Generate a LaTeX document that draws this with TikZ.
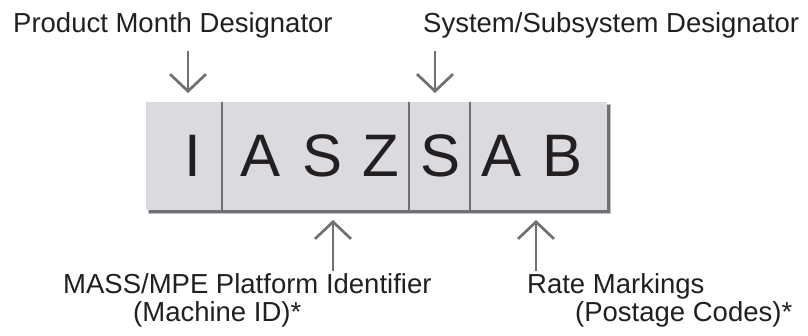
\documentclass[tikz,border=0pt]{standalone}
\usepackage{fontspec}
\setmainfont{Liberation Sans}
\usetikzlibrary{arrows.meta}
\definecolor{boxfill}{HTML}{DADADF}
\definecolor{linegray}{HTML}{6D7174}
\definecolor{txt}{HTML}{231F20}
\begin{document}
\begin{tikzpicture}[x=1pt,y=-1pt,
  lbl/.style={anchor=base west, inner sep=0pt, text=txt, font=\fontsize{27.5}{30}\selectfont},
  letter/.style={anchor=base, inner sep=0pt, text=txt, font=\fontsize{60}{62}\selectfont},
  pointer/.style={draw=linegray, line width=2.7pt, -{Straight Barb[length=17pt,width=36pt,line width=2.7pt]}},
  divider/.style={draw=linegray, line width=2pt}]
\useasboundingbox (0,0) rectangle (808,335);
% box with shadow
\fill[linegray!45] (148,104) rectangle (610.5,213.5);
\fill[linegray] (149,105) rectangle (609.5,212.5);
\fill[boxfill] (146,102) coordinate (boxnw) rectangle (607,210) coordinate (boxse);
% dividers
\coordinate (d1t) at (222,102); \coordinate (d1b) at (222,210);
\coordinate (d2t) at (409,102); \coordinate (d2b) at (409,210);
\coordinate (d3t) at (470,102); \coordinate (d3b) at (470,210);
\draw[divider] (d1t) -- (d1b);
\draw[divider] (d2t) -- (d2b);
\draw[divider] (d3t) -- (d3b);
% letters
\node[letter] (l1) at (192.5,176) {I};
\node[letter] (l2) at (261,176) {A};
\node[letter] (l3) at (323,176) {S};
\node[letter] (l4) at (381,176) {Z};
\node[letter] (l5) at (440.5,176) {S};
\node[letter] (l6) at (502,176) {A};
\node[letter] (l7) at (563,176) {B};
% labels
\node[lbl] (pmd) at (13,32) {Product Month Designator};
\node[lbl] (ssd) at (423,32) {System/Subsystem Designator};
\node[lbl] (mpi) at (63,293) {MASS/MPE Platform Identifier};
\node[lbl] (mid) at (133,321) {(Machine ID)*};
\node[lbl] (rm) at (527,293) {Rate Markings};
\node[lbl] (pc) at (575,321) {(Postage Codes)*};
% arrows
\coordinate (a1s) at (188,51);  \coordinate (a1e) at (188,93);
\coordinate (a2s) at (435,51);  \coordinate (a2e) at (435,93);
\coordinate (a3s) at (333,271); \coordinate (a3e) at (333,220);
\coordinate (a4s) at (536,271); \coordinate (a4e) at (536,220);
\draw[pointer] (a1s) -- (a1e);
\draw[pointer] (a2s) -- (a2e);
\draw[pointer] (a3s) -- (a3e);
\draw[pointer] (a4s) -- (a4e);
\end{tikzpicture}
\end{document}
